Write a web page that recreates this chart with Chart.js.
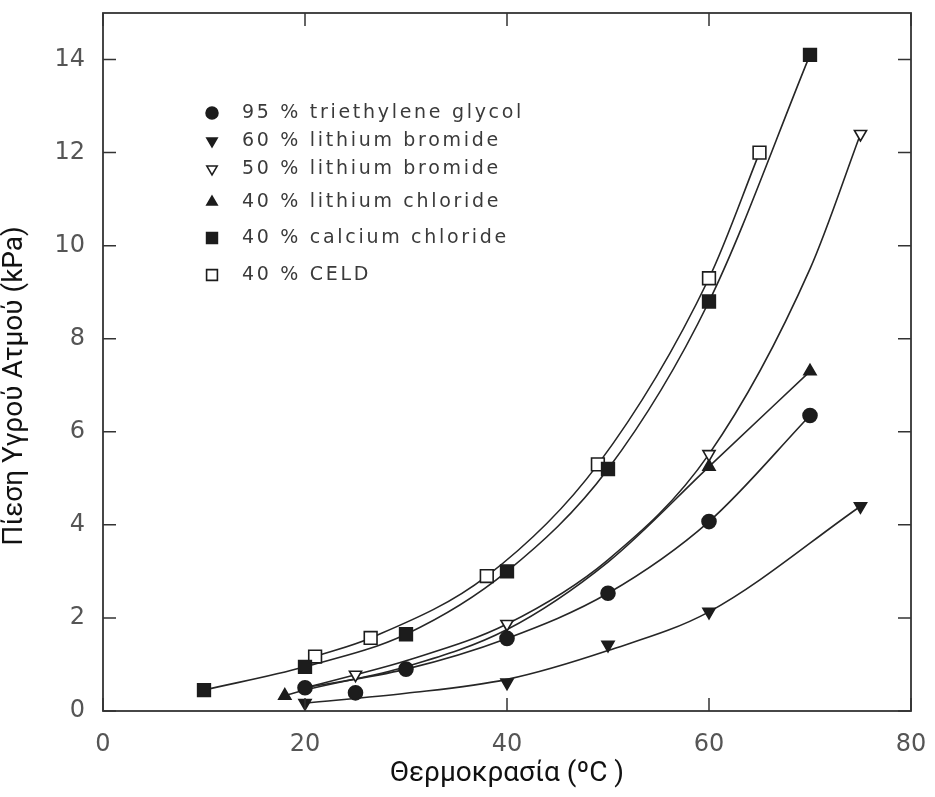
<!DOCTYPE html>
<html>
<head>
<meta charset="utf-8">
<script src="https://cdn.jsdelivr.net/npm/chart.js@4.4.1/dist/chart.umd.min.js"></script>
<style>
    html, body { margin: 0; padding: 0; background: #fff; }
    #wrap { width: 935px; height: 797px; }
</style>
</head>
<body>
<div id="wrap"><canvas id="chart"></canvas></div>
<script>
// ------------------ axes ------------------
const xTicks = [0, 20, 40, 60, 80];
const yTicks = [0, 2, 4, 6, 8, 10, 12, 14];

const xTitle = 'Θερμοκρασία (ºC )';
const yTitle = 'Πίεση Υγρού Ατμού (kPa)';

const seriesLabels = [
    '95 % triethylene glycol',
    '60 % lithium bromide',
    '50 % lithium bromide',
    '40 % lithium chloride',
    '40 % calcium chloride',
    '40 % CELD'
];

// ------------------ measured points (markers) ------------------
const tegT = [20, 25, 30, 40, 50, 60, 70];
const tegP = [0.5, 0.39, 0.9, 1.56, 2.53, 4.07, 6.35];

const libr60T = [20, 40, 50, 60, 75];
const libr60P = [0.17, 0.61, 1.42, 2.13, 4.4];

const libr50T = [25, 40, 60, 75];
const libr50P = [0.78, 1.87, 5.52, 12.4];

const liclT = [18, 60, 70];
const liclP = [0.33, 5.25, 7.3];

const caclT = [10, 20, 30, 40, 50, 60, 70];
const caclP = [0.45, 0.95, 1.65, 3.0, 5.2, 8.8, 14.1];

const celdT = [21, 26.5, 38, 49, 60, 65];
const celdP = [1.17, 1.57, 2.9, 5.3, 9.3, 12.0];

// ------------------ fitted curves ------------------
const tegCurveT = [20, 30, 40, 50, 60, 70];
const tegCurveP = [0.5, 0.9, 1.56, 2.53, 4.07, 6.35];

const libr60CurveT = [20, 30, 40, 50, 60, 75];
const libr60CurveP = [0.17, 0.38, 0.68, 1.3, 2.13, 4.4];

const libr50CurveT = [20, 25, 30, 40, 50, 60, 70, 75];
const libr50CurveP = [0.5, 0.78, 1.08, 1.87, 3.25, 5.52, 9.5, 12.4];

const liclCurveT = [18, 20, 30, 40, 50, 60, 70];
const liclCurveP = [0.33, 0.45, 0.95, 1.75, 3.2, 5.25, 7.3];

const caclCurveT = [10, 20, 30, 40, 50, 60, 70];
const caclCurveP = [0.45, 0.95, 1.65, 3.0, 5.2, 8.8, 14.1];

const celdCurveT = [21, 26.5, 38, 49, 60, 65];
const celdCurveP = [1.17, 1.57, 2.9, 5.3, 9.3, 12.0];

function pts(t, p) {
    return t.map((v, i) => ({ x: v, y: p[i] }));
}

const INK = '#1c1c1c';

// marker styles for the six series
const markerStyles = [
    { pointStyle: 'circle', rotation: 0, fill: INK, radius: 7 },
    { pointStyle: 'triangle', rotation: 180, fill: INK, radius: 7 },
    { pointStyle: 'triangle', rotation: 180, fill: '#fff', radius: 7 },
    { pointStyle: 'triangle', rotation: 0, fill: INK, radius: 7 },
    { pointStyle: 'rect', rotation: 0, fill: INK, radius: 9 },
    { pointStyle: 'rect', rotation: 0, fill: '#fff', radius: 9 }
];

const markerData = [
    pts(tegT, tegP), pts(libr60T, libr60P), pts(libr50T, libr50P),
    pts(liclT, liclP), pts(caclT, caclP), pts(celdT, celdP)
];
const curveData = [
    pts(tegCurveT, tegCurveP), pts(libr60CurveT, libr60CurveP), pts(libr50CurveT, libr50CurveP),
    pts(liclCurveT, liclCurveP), pts(caclCurveT, caclCurveP), pts(celdCurveT, celdCurveP)
];

const datasets = [];
markerData.forEach((d, i) => {
    const s = markerStyles[i];
    datasets.push({
        label: seriesLabels[i],
        data: d,
        showLine: false,
        pointStyle: s.pointStyle,
        rotation: s.rotation,
        pointRadius: s.radius,
        backgroundColor: s.fill,
        borderColor: INK,
        borderWidth: 1.6,
        order: 0
    });
});
curveData.forEach((d, i) => {
    datasets.push({
        label: '',
        data: d,
        showLine: true,
        borderColor: '#262626',
        borderWidth: 1.6,
        pointRadius: 0,
        cubicInterpolationMode: 'monotone',
        fill: false,
        order: 1
    });
});

// ------------------ frame with inward ticks ------------------
const framePlugin = {
    id: 'frame',
    afterDatasetsDraw(chart) {
        const ctx = chart.ctx;
        const a = chart.chartArea;
        const xs = chart.scales.x, ys = chart.scales.y;
        ctx.save();
        ctx.strokeStyle = '#333';
        ctx.lineWidth = 1.8;
        ctx.strokeRect(a.left, a.top, a.right - a.left, a.bottom - a.top);
        ctx.lineWidth = 1.5;
        const len = 13;
        ctx.beginPath();
        yTicks.forEach(v => {
            const y = ys.getPixelForValue(v);
            ctx.moveTo(a.left, y); ctx.lineTo(a.left + len, y);
            ctx.moveTo(a.right, y); ctx.lineTo(a.right - len, y);
        });
        xTicks.forEach(v => {
            const x = xs.getPixelForValue(v);
            ctx.moveTo(x, a.bottom); ctx.lineTo(x, a.bottom - len);
            ctx.moveTo(x, a.top); ctx.lineTo(x, a.top + len);
        });
        ctx.stroke();
        ctx.restore();
    }
};

// ------------------ y title, placed a bit below the scale centre ------------------
const yTitlePlugin = {
    id: 'yTitle',
    afterDraw(chart, args, opts) {
        const ctx = chart.ctx;
        ctx.save();
        ctx.font = '28px Roboto';
        ctx.fillStyle = '#111';
        ctx.textAlign = 'center';
        ctx.textBaseline = 'middle';
        ctx.translate(opts.x, opts.y);
        ctx.rotate(-Math.PI / 2);
        ctx.fillText(yTitle, 0, 0);
        ctx.restore();
    }
};

// ------------------ legend inside the plot ------------------
const legendPlugin = {
    id: 'innerLegend',
    afterDraw(chart, args, opts) {
        const ctx = chart.ctx;
        ctx.save();
        ctx.font = '19px "DejaVu Sans"';
        ctx.letterSpacing = '2.7px';
        ctx.textBaseline = 'middle';
        opts.rows.forEach((y, i) => {
            const s = markerStyles[i];
            ctx.fillStyle = s.fill;
            ctx.strokeStyle = INK;
            ctx.lineWidth = 1.6;
            Chart.helpers.drawPoint(ctx, {
                pointStyle: s.pointStyle,
                rotation: s.rotation,
                radius: s.radius * 0.85,
                borderWidth: 1.6
            }, opts.symbolX, y);
            ctx.fillStyle = '#3a3a3a';
            ctx.fillText(seriesLabels[i], opts.textX, y);
        });
        ctx.restore();
    }
};

const tickFont = { family: 'DejaVu Sans', size: 24 };

new Chart(document.getElementById('chart'), {
    type: 'scatter',
    data: { datasets: datasets },
    options: {
        responsive: true,
        maintainAspectRatio: false,
        animation: false,
        layout: { padding: { top: 13, right: 24, left: 0, bottom: 0 } },
        plugins: {
            legend: { display: false },
            tooltip: { enabled: false },
            innerLegend: { rows: [113, 141, 169, 202, 238, 275], symbolX: 212, textX: 242 },
            yTitle: { x: 15, y: 386 }
        },
        scales: {
            x: {
                type: 'linear',
                min: 0,
                max: 80,
                afterBuildTicks: s => { s.ticks = xTicks.map(v => ({ value: v })); },
                afterFit: s => { s.height = 86; s.paddingLeft = 0; s.paddingRight = 0; },
                grid: { display: false, drawTicks: false },
                border: { display: false },
                ticks: { font: tickFont, color: '#555', padding: 19 },
                title: {
                    display: true,
                    text: xTitle,
                    font: { family: 'Roboto', size: 28 },
                    color: '#111',
                    padding: { top: 0, bottom: 6 }
                }
            },
            y: {
                type: 'linear',
                min: 0,
                max: 15,
                afterBuildTicks: s => { s.ticks = yTicks.map(v => ({ value: v })); },
                afterFit: s => { s.width = 103; s.paddingTop = 0; s.paddingBottom = 0; },
                grid: { display: false, drawTicks: false },
                border: { display: false },
                ticks: { font: tickFont, color: '#555', padding: 18 }
            }
        }
    },
    plugins: [framePlugin, legendPlugin, yTitlePlugin]
});
</script>
</body>
</html>
